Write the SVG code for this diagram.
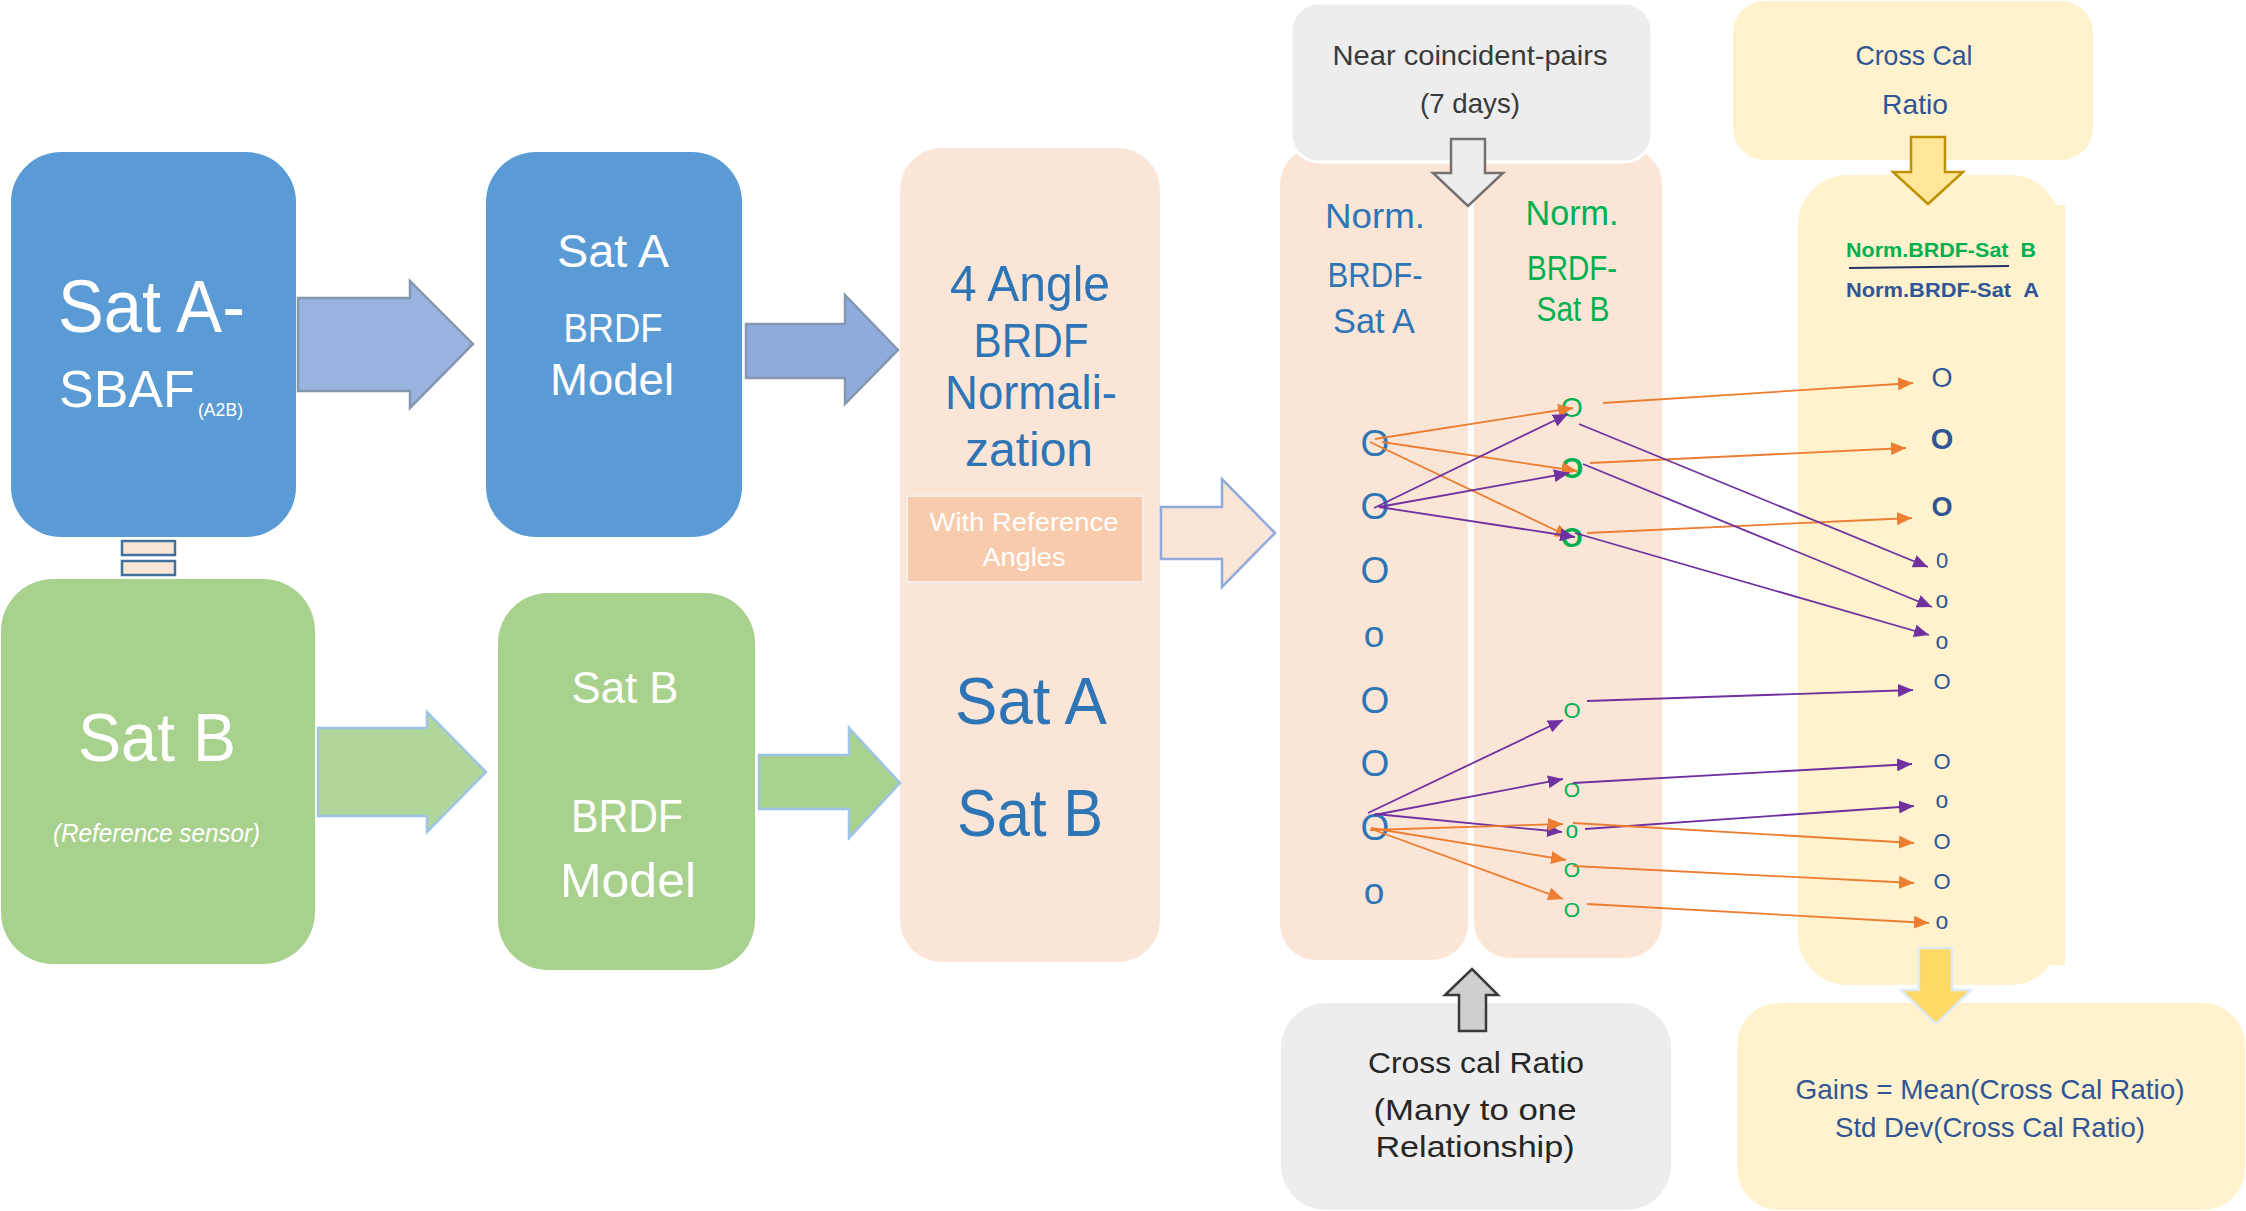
<svg xmlns="http://www.w3.org/2000/svg" width="2246" height="1211" viewBox="0 0 2246 1211">
<defs>
<style>
text{font-family:"Liberation Sans",Arial,sans-serif}
.w{fill:#FFFFFF}
.bl{fill:#2E75B6}
.gr{fill:#00B050}
.db{fill:#2F5597}
.dk{fill:#3A3A3A}
.m{text-anchor:middle}
.ln{fill:none;stroke-width:1.8}
.or{stroke:#ED7D31}
.pu{stroke:#7030A0}
</style>
<marker id="ao" viewBox="0 0 15 13" markerWidth="15" markerHeight="13" refX="15" refY="6.5" orient="auto" markerUnits="userSpaceOnUse"><path d="M0,0L15,6.5L0,13z" fill="#ED7D31"/></marker>
<marker id="ap" viewBox="0 0 15 13" markerWidth="15" markerHeight="13" refX="15" refY="6.5" orient="auto" markerUnits="userSpaceOnUse"><path d="M0,0L15,6.5L0,13z" fill="#7030A0"/></marker>
</defs>
<rect width="2246" height="1211" fill="#FFFFFF"/>

<g id="satA-sbaf">
<rect x="11" y="152" width="285" height="385" rx="50" fill="#5B9BD5"/>
<text class="w" x="58" y="332" font-size="75" textLength="187" lengthAdjust="spacingAndGlyphs">Sat A-</text>
<text class="w" x="59" y="407" font-size="52">SBAF</text>
<text class="w" x="198" y="416" font-size="18" textLength="45" lengthAdjust="spacingAndGlyphs">(A2B)</text>
</g>

<g id="equals">
<rect x="122" y="541" width="53" height="14" fill="#FBE5D6" stroke="#41719C" stroke-width="2.5"/>
<rect x="122" y="561" width="53" height="14" fill="#FBE5D6" stroke="#41719C" stroke-width="2.5"/>
</g>

<g id="satA-brdf">
<rect x="486" y="152" width="256" height="385" rx="50" fill="#5B9BD5"/>
<text class="w m" x="613" y="267" font-size="47" textLength="112" lengthAdjust="spacingAndGlyphs">Sat A</text>
<text class="w m" x="613" y="342" font-size="40" textLength="99" lengthAdjust="spacingAndGlyphs">BRDF</text>
<text class="w m" x="612" y="395" font-size="44" textLength="124" lengthAdjust="spacingAndGlyphs">Model</text>
</g>

<g id="satB">
<rect x="1" y="579" width="314" height="385" rx="52" fill="#A9D18E"/>
<text class="w" x="78" y="761" font-size="68" textLength="158" lengthAdjust="spacingAndGlyphs">Sat B</text>
<text class="w" x="53" y="842" font-size="25" font-style="italic" textLength="207" lengthAdjust="spacingAndGlyphs">(Reference sensor)</text>
</g>

<g id="satB-brdf">
<rect x="498" y="593" width="257" height="377" rx="50" fill="#A9D18E"/>
<text class="w m" x="625" y="703" font-size="44" textLength="107" lengthAdjust="spacingAndGlyphs">Sat B</text>
<text class="w m" x="627" y="832" font-size="47" textLength="112" lengthAdjust="spacingAndGlyphs">BRDF</text>
<text class="w m" x="628" y="897" font-size="49" textLength="136" lengthAdjust="spacingAndGlyphs">Model</text>
</g>

<g id="normalization">
<rect x="900" y="148" width="260" height="814" rx="42" fill="#FBE5D6"/>
<text class="bl m" x="1030" y="301" font-size="50" textLength="160" lengthAdjust="spacingAndGlyphs">4 Angle</text>
<text class="bl m" x="1031" y="357" font-size="48" textLength="115" lengthAdjust="spacingAndGlyphs">BRDF</text>
<text class="bl m" x="1031" y="409" font-size="48" textLength="172" lengthAdjust="spacingAndGlyphs">Normali-</text>
<text class="bl m" x="1029" y="466" font-size="48" textLength="128" lengthAdjust="spacingAndGlyphs">zation</text>
<rect x="907" y="496" width="236" height="86" fill="#F8CBAD" stroke="#F4EDE8" stroke-width="2"/>
<text class="w m" x="1024" y="531" font-size="25" textLength="189" lengthAdjust="spacingAndGlyphs">With Reference</text>
<text class="w m" x="1024" y="566" font-size="25" textLength="83" lengthAdjust="spacingAndGlyphs">Angles</text>
<text class="bl m" x="1031" y="724" font-size="66" textLength="152" lengthAdjust="spacingAndGlyphs">Sat A</text>
<text class="bl m" x="1030" y="836" font-size="66" textLength="146" lengthAdjust="spacingAndGlyphs">Sat B</text>
</g>

<g id="norm-satA">
<rect x="1280" y="148" width="188" height="812" rx="36" fill="#FBE5D6"/>
<text class="bl m" x="1375" y="228" font-size="35" textLength="100" lengthAdjust="spacingAndGlyphs">Norm.</text>
<text class="bl m" x="1375" y="287" font-size="35" textLength="95" lengthAdjust="spacingAndGlyphs">BRDF-</text>
<text class="bl m" x="1374" y="333" font-size="35" textLength="82" lengthAdjust="spacingAndGlyphs">Sat A</text>
<g class="bl m" font-size="37">
<text x="1375" y="456">O</text>
<text x="1375" y="519">O</text>
<text x="1375" y="583">O</text>
<text x="1374" y="647">o</text>
<text x="1375" y="713">O</text>
<text x="1375" y="776">O</text>
<text x="1375" y="840">O</text>
<text x="1374" y="904">o</text>
</g>
</g>

<g id="norm-satB">
<rect x="1474" y="148" width="188" height="810" rx="36" fill="#FBE5D6"/>
<text class="gr m" x="1572" y="225" font-size="35" textLength="93" lengthAdjust="spacingAndGlyphs">Norm.</text>
<text class="gr m" x="1572" y="280" font-size="35" textLength="90" lengthAdjust="spacingAndGlyphs">BRDF-</text>
<text class="gr m" x="1573" y="321" font-size="35" textLength="73" lengthAdjust="spacingAndGlyphs">Sat B</text>
<g class="gr m">
<text x="1572" y="417" font-size="28">O</text>
<text x="1572" y="478" font-size="29" font-weight="bold">O</text>
<text x="1572" y="547" font-size="28" font-weight="bold">O</text>
<text x="1572" y="718" font-size="22">O</text>
<text x="1572" y="797" font-size="21">O</text>
<text x="1572" y="838" font-size="23">o</text>
<text x="1572" y="877" font-size="21">O</text>
<text x="1572" y="917" font-size="21">O</text>
</g>
</g>

<g id="near-pairs">
<rect x="1291" y="3" width="361" height="159" rx="28" fill="#EDEDED" stroke="#FFFFFF" stroke-width="3"/>
<text class="dk m" x="1470" y="65" font-size="28" textLength="275" lengthAdjust="spacingAndGlyphs">Near coincident-pairs</text>
<text class="dk m" x="1470" y="113" font-size="28" textLength="100" lengthAdjust="spacingAndGlyphs">(7 days)</text>
<polygon points="1451,139 1485,139 1485,173 1503,173 1468,206 1433,173 1451,173" fill="#EDEDED" stroke="#767171" stroke-width="2.5"/>
</g>

<g id="cross-cal-column">
<rect x="1798" y="175" width="262" height="810" rx="50" fill="#FFF2CC"/>
<rect x="2035" y="205" width="30" height="760" fill="#FFF2CC"/>
<text x="1846" y="257" font-size="21" font-weight="bold" fill="#00B050" textLength="190" lengthAdjust="spacingAndGlyphs">Norm.BRDF-Sat&#160;&#160;B</text>
<line x1="1849" y1="268" x2="2009" y2="266" stroke="#203864" stroke-width="2"/>
<text x="1846" y="297" font-size="21" font-weight="bold" fill="#2F5597" textLength="193" lengthAdjust="spacingAndGlyphs">Norm.BRDF-Sat&#160;&#160;A</text>
<g class="db m">
<text x="1942" y="387" font-size="27">O</text>
<text x="1942" y="449" font-size="29" font-weight="bold">O</text>
<text x="1942" y="516" font-size="27" font-weight="bold">O</text>
<text x="1942" y="568" font-size="22">0</text>
<text x="1942" y="608" font-size="23">o</text>
<text x="1942" y="649" font-size="23">o</text>
<text x="1942" y="689" font-size="22">O</text>
<text x="1942" y="769" font-size="22">O</text>
<text x="1942" y="808" font-size="23">o</text>
<text x="1942" y="849" font-size="22">O</text>
<text x="1942" y="889" font-size="22">O</text>
<text x="1942" y="929" font-size="23">o</text>
</g>
</g>

<g id="cross-cal-ratio">
<rect x="1733" y="1" width="360" height="159" rx="32" fill="#FFF2CC"/>
<text class="db m" x="1914" y="65" font-size="28" textLength="117" lengthAdjust="spacingAndGlyphs">Cross Cal</text>
<text class="db m" x="1915" y="114" font-size="28" textLength="66" lengthAdjust="spacingAndGlyphs">Ratio</text>
<polygon points="1911,137 1945,137 1945,172 1963,172 1928,204 1893,172 1911,172" fill="#FFE699" stroke="#BF9000" stroke-width="2.5"/>
</g>

<g id="gains">
<rect x="1737" y="1003" width="508" height="207" rx="42" fill="#FFF2CC"/>
<text class="db m" x="1990" y="1099" font-size="28" textLength="389" lengthAdjust="spacingAndGlyphs">Gains = Mean(Cross Cal Ratio)</text>
<text class="db m" x="1990" y="1137" font-size="28" textLength="310" lengthAdjust="spacingAndGlyphs">Std Dev(Cross Cal Ratio)</text>
<polygon points="1919,948 1952,948 1952,990 1971,990 1936,1024 1901,990 1919,990" fill="#FFD966" stroke="#DEEBF7" stroke-width="2.5"/>
</g>

<g id="many-to-one">
<rect x="1281" y="1003" width="390" height="207" rx="45" fill="#EDEDED"/>
<text class="m" x="1476" y="1073" font-size="30" fill="#262626" textLength="216" lengthAdjust="spacingAndGlyphs">Cross cal Ratio</text>
<text class="m" x="1475" y="1120" font-size="30" fill="#262626" textLength="203" lengthAdjust="spacingAndGlyphs">(Many to one</text>
<text class="m" x="1475" y="1157" font-size="30" fill="#262626" textLength="199" lengthAdjust="spacingAndGlyphs">Relationship)</text>
<polygon points="1459,1031 1486,1031 1486,995 1498,995 1472,969 1445,995 1459,995" fill="#D0CECE" stroke="#3B3838" stroke-width="2.5"/>
</g>

<g id="block-arrows">
<polygon points="298,298 410,298 410,281 473,344 410,408 410,391 298,391" fill="#9AB3DF" stroke="#8497B0" stroke-width="2.5"/>
<polygon points="746,324 845,324 845,295 898,350 845,404 845,378 746,378" fill="#8FAADC" stroke="#8497B0" stroke-width="2.5"/>
<polygon points="318,728 427,728 427,712 486,772 427,832 427,816 318,816" fill="#B0D69A" stroke="#9DC3E6" stroke-width="2.5"/>
<polygon points="759,755 849,755 849,728 900,783 849,838 849,809 759,809" fill="#A9D18E" stroke="#9DC3E6" stroke-width="2.5"/>
<polygon points="1161,507 1222,507 1222,479 1275,533 1222,587 1222,559 1161,559" fill="#FBE5D6" stroke="#8FAADC" stroke-width="2.5"/>
</g>

<g id="connectors">
<line class="ln or" x1="1375" y1="439" x2="1573" y2="408" marker-end="url(#ao)"/>
<line class="ln or" x1="1382" y1="442" x2="1577" y2="471" marker-end="url(#ao)"/>
<line class="ln or" x1="1370" y1="442" x2="1570" y2="537" marker-end="url(#ao)"/>
<line class="ln pu" x1="1374" y1="508" x2="1568" y2="414" marker-end="url(#ap)"/>
<line class="ln pu" x1="1379" y1="507" x2="1569" y2="473" marker-end="url(#ap)"/>
<line class="ln pu" x1="1379" y1="507" x2="1575" y2="537" marker-end="url(#ap)"/>
<line class="ln or" x1="1603" y1="403" x2="1913" y2="383" marker-end="url(#ao)"/>
<line class="ln or" x1="1590" y1="463" x2="1906" y2="448" marker-end="url(#ao)"/>
<line class="ln or" x1="1587" y1="533" x2="1912" y2="518" marker-end="url(#ao)"/>
<line class="ln pu" x1="1579" y1="424" x2="1928" y2="567" marker-end="url(#ap)"/>
<line class="ln pu" x1="1583" y1="464" x2="1932" y2="607" marker-end="url(#ap)"/>
<line class="ln pu" x1="1575" y1="533" x2="1929" y2="635" marker-end="url(#ap)"/>
<line class="ln pu" x1="1368" y1="813" x2="1563" y2="720" marker-end="url(#ap)"/>
<line class="ln pu" x1="1374" y1="815" x2="1563" y2="779" marker-end="url(#ap)"/>
<line class="ln pu" x1="1375" y1="814" x2="1562" y2="832" marker-end="url(#ap)"/>
<line class="ln or" x1="1370" y1="830" x2="1563" y2="824" marker-end="url(#ao)"/>
<line class="ln or" x1="1371" y1="828" x2="1566" y2="860" marker-end="url(#ao)"/>
<line class="ln or" x1="1374" y1="830" x2="1563" y2="899" marker-end="url(#ao)"/>
<line class="ln pu" x1="1587" y1="701" x2="1913" y2="690" marker-end="url(#ap)"/>
<line class="ln pu" x1="1573" y1="783" x2="1912" y2="764" marker-end="url(#ap)"/>
<line class="ln pu" x1="1585" y1="829" x2="1914" y2="806" marker-end="url(#ap)"/>
<line class="ln or" x1="1573" y1="823" x2="1914" y2="843" marker-end="url(#ao)"/>
<line class="ln or" x1="1573" y1="866" x2="1914" y2="883" marker-end="url(#ao)"/>
<line class="ln or" x1="1587" y1="904" x2="1929" y2="923" marker-end="url(#ao)"/>
</g>
</svg>
